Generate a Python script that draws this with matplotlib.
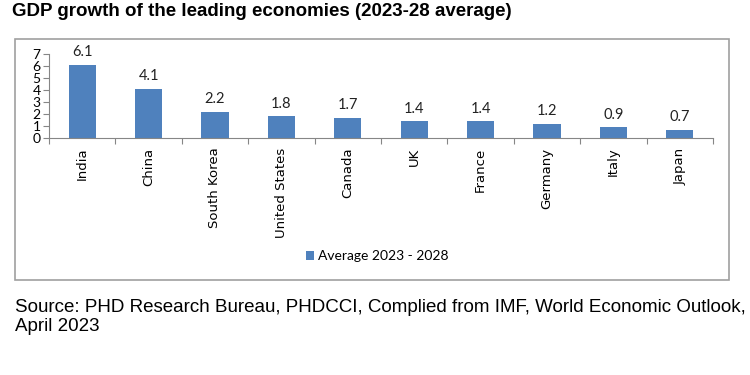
import matplotlib
matplotlib.use("Agg")
import matplotlib.pyplot as plt
from matplotlib.patches import Rectangle

# data
countries = ["India", "China", "South Korea", "United States", "Canada",
             "UK", "France", "Germany", "Italy", "Japan"]
growth = [6.1, 4.1, 2.2, 1.8, 1.7, 1.4, 1.4, 1.2, 0.9, 0.7]
series_name = "Average 2023 - 2028"
yticks = [0, 1, 2, 3, 4, 5, 6, 7]

bar_color = "#4F81BD"
axis_color = "#868686"

fig = plt.figure(figsize=(7.5, 3.75), dpi=100)

# outer chart box
fig.patches.append(Rectangle((15 / 750, 1 - 280 / 375), 714 / 750, 241 / 375,
                             transform=fig.transFigure, fill=False,
                             edgecolor="#A0A0A0", linewidth=1.2))

ax = fig.add_axes([49 / 750, 1 - 138 / 375, 664 / 750, 84 / 375])
x = list(range(len(countries)))
bars = ax.bar(x, growth, width=0.41, color=bar_color, label=series_name)

for xi, v in zip(x, growth):
    ax.text(xi, v + 0.45, f"{v}", ha="center", va="bottom",
            fontsize=10.5, family="Lato", color="#222222")

ax.set_xlim(-0.5, len(countries) - 0.5)
ax.set_ylim(0, 7)
ax.set_yticks(yticks)
ax.set_yticklabels([str(t) for t in yticks], family="Lato", fontsize=10)
ax.set_xticks(x)
ax.set_xticklabels(countries, rotation=90, fontsize=9.5)
for lbl in ax.get_xticklabels():
    lbl.set_fontfamily("DejaVu Sans")
ax.tick_params(axis="x", length=0, pad=7)
ax.tick_params(axis="y", length=4, width=0.8, color=axis_color, pad=2)
ax.set_xticks([i - 0.5 for i in range(len(countries) + 1)], minor=True)
ax.tick_params(axis="x", which="minor", length=4, width=0.8, color=axis_color)

for s in ["top", "right"]:
    ax.spines[s].set_visible(False)
for s in ["left", "bottom"]:
    ax.spines[s].set_color(axis_color)
    ax.spines[s].set_linewidth(0.8)

leg = fig.legend(handles=[bars], labels=[series_name], loc="center",
                 bbox_to_anchor=(377 / 750, 1 - 256 / 375), frameon=False,
                 prop={"family": "Lato", "size": 10}, handlelength=0.6,
                 handleheight=0.6, handletextpad=0.3)

fig.text(12 / 750, 1 - 11 / 375,
         "GDP growth of the leading economies (2023-28 average)",
         fontsize=13.5, fontweight="bold", family="Liberation Sans",
         ha="left", va="center")
fig.text(15 / 750, 1 - 317 / 375,
         "Source: PHD Research Bureau, PHDCCI, Complied from IMF, World Economic Outlook,\nApril 2023",
         fontsize=13.5, family="Liberation Sans", ha="left", va="center",
         linespacing=1.15)

fig.savefig("out.png", dpi=100)
